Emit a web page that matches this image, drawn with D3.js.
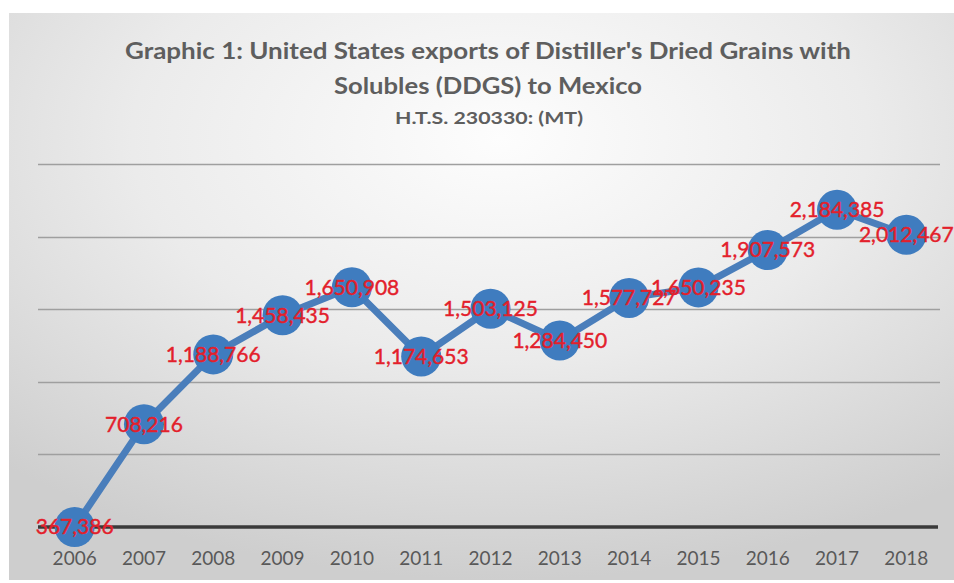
<!DOCTYPE html>
<html>
<head>
<meta charset="utf-8">
<script src="https://cdn.jsdelivr.net/npm/d3@7"></script>
<style>
  html, body { margin: 0; padding: 0; background: #fff; }
  svg { display: block; }
</style>
</head>
<body>
<svg id="chart" width="954" height="583"></svg>
<script>
// data
const years = ['2006', '2007', '2008', '2009', '2010', '2011', '2012', '2013', '2014', '2015', '2016', '2017', '2018']
// numbers printed in the data labels
const labelValues = [367386, 708216, 1188766, 1458435, 1650908, 1174653, 1503125, 1284450, 1577727, 1650235, 1907573, 2184385, 2012467]
// where the markers actually sit (the 2006 marker sits on the baseline)
const markerValues = [0, 708216, 1188766, 1458435, 1650908, 1174653, 1503125, 1284450, 1577727, 1650235, 1907573, 2184385, 2012467]
const gridTicks = [0, 500000, 1000000, 1500000, 2000000, 2500000]
const titleLines = ["Graphic 1: United States exports of Distiller's Dried Grains with", 'Solubles (DDGS) to Mexico']
const subTitle = 'H.T.S. 230330: (MT)'

const size = { width: 954, height: 583 }
const margin = { left: 40, right: 13, top: 164, bottom: 56 }

const svg = d3.select('#chart')

// background panel with soft radial shading
const defs = svg.append('defs')
const grad = defs.append('radialGradient')
    .attr('id', 'bg')
    .attr('cx', '52%').attr('cy', '22%').attr('r', '78%')
grad.append('stop').attr('offset', '0%').attr('stop-color', '#fdfdfd')
grad.append('stop').attr('offset', '50%').attr('stop-color', '#ebebeb')
grad.append('stop').attr('offset', '100%').attr('stop-color', '#cecece')

svg.append('rect')
    .attr('x', 9).attr('y', 13)
    .attr('width', size.width - 9).attr('height', 567)
    .attr('fill', 'url(#bg)')

// title
const title = svg.append('g').attr('fill', '#5e5e5e')
    .style('font-family', 'Lato, "Open Sans", sans-serif')
    .style('font-weight', 'bold')
    .attr('text-anchor', 'middle')
title.selectAll('text.t')
    .data(titleLines)
    .join('text')
    .attr('class', 't')
    .attr('x', 488)
    .attr('y', (d, i) => 59 + i * 35)
    .style('font-size', '23px')
    .attr('textLength', (d, i) => i === 0 ? 726 : 308)
    .attr('lengthAdjust', 'spacingAndGlyphs')
    .text(d => d)
title.append('text')
    .attr('x', 489)
    .attr('y', 124)
    .style('font-size', '17px')
    .attr('textLength', 188)
    .attr('lengthAdjust', 'spacingAndGlyphs')
    .text(subTitle)

// scales
const xScale = d3.scaleBand()
    .domain(years)
    .range([margin.left, size.width - margin.right])

const yScale = d3.scaleLinear()
    .domain([0, 2500000])
    .range([527, margin.top])

const cx = (d, i) => xScale(years[i]) + xScale.bandwidth() / 2

// gridlines
svg.append('g')
    .selectAll('line')
    .data(gridTicks.slice(1))
    .join('line')
    .attr('x1', margin.left - 2)
    .attr('x2', size.width - margin.right - 1)
    .attr('y1', d => Math.round(yScale(d)) + 0.5)
    .attr('y2', d => Math.round(yScale(d)) + 0.5)
    .attr('stroke', '#9f9f9f')
    .attr('stroke-width', 1.3)

// x axis: thick baseline and year labels
const xAxis = svg.append('g')
    .attr('transform', `translate(0, ${yScale(0)})`)
    .call(d3.axisBottom(xScale).tickSize(0).tickPadding(25))
xAxis.select('.domain')
    .attr('d', `M${margin.left - 2},0H${size.width - margin.right - 3}`)
    .attr('stroke', '#3a3a3a')
    .attr('stroke-width', 3.5)
xAxis.selectAll('text')
    .attr('fill', '#595959')
    .style('font-family', 'Lato, "Open Sans", sans-serif')
    .style('font-size', '19px')

// line
const line = d3.line()
    .x(cx)
    .y(d => yScale(d))

svg.append('path')
    .datum(markerValues)
    .attr('d', line)
    .attr('fill', 'none')
    .attr('stroke', '#4a7ebb')
    .attr('stroke-width', 7)
    .attr('stroke-linejoin', 'round')

// markers
svg.append('g')
    .selectAll('circle')
    .data(markerValues)
    .join('circle')
    .attr('cx', cx)
    .attr('cy', d => yScale(d))
    .attr('r', 20)
    .attr('fill', '#3f7cbf')

// data labels, centred on the markers
svg.append('g')
    .selectAll('text')
    .data(labelValues)
    .join('text')
    .attr('x', cx)
    .attr('y', (d, i) => yScale(markerValues[i]))
    .attr('dy', '0.35em')
    .attr('text-anchor', 'middle')
    .attr('fill', '#e3202b')
    .attr('stroke', '#e3202b')
    .attr('stroke-width', 0.4)
    .style('font-family', 'Lato, "Open Sans", sans-serif')
    .style('font-size', '21px')
    .text(d => d3.format(',')(d))
</script>
</body>
</html>
